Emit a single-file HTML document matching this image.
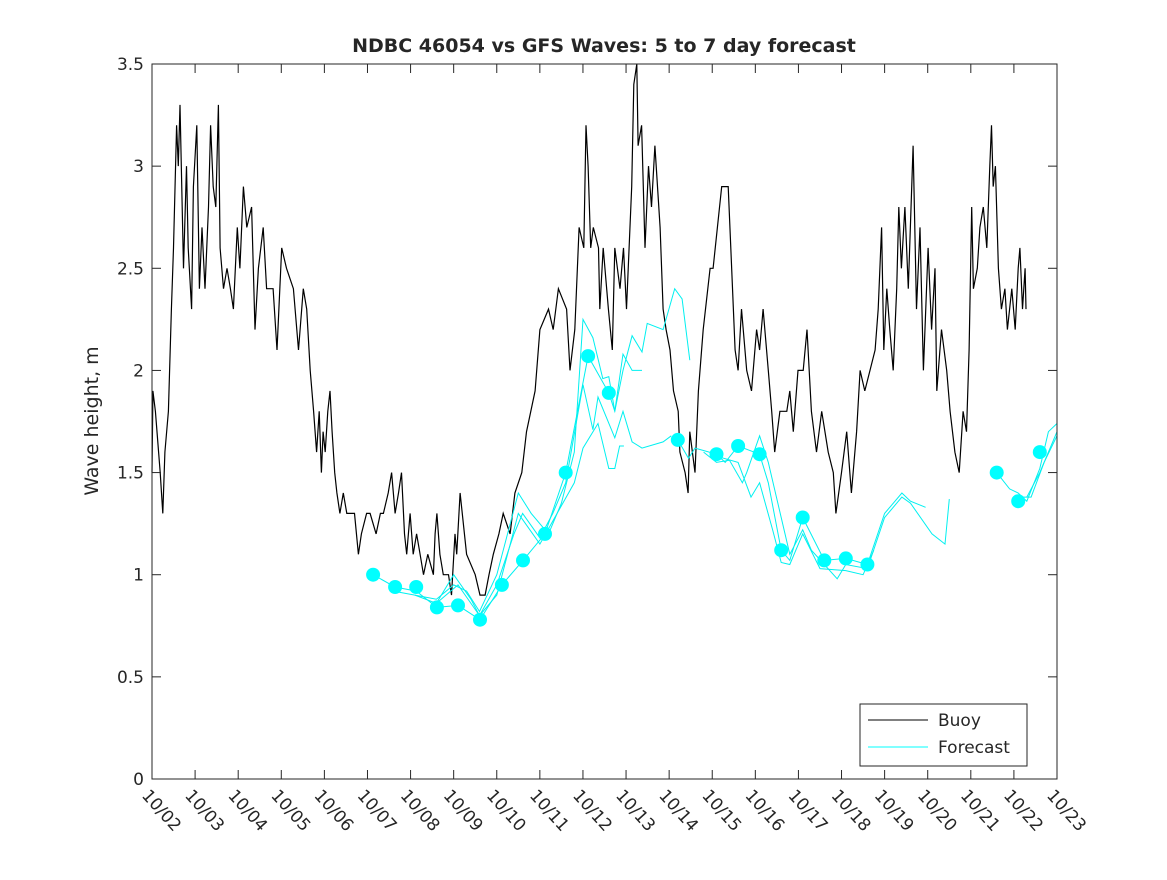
<!DOCTYPE html>
<html><head><meta charset="utf-8"><style>
html,body{margin:0;padding:0;background:#fff;}
svg text{font-family:"DejaVu Sans","Liberation Sans",sans-serif;fill:#262626;}
</style></head><body>
<svg id="chart" width="1167" height="875" viewBox="0 0 1167 875" xmlns="http://www.w3.org/2000/svg">
<rect x="0" y="0" width="1167" height="875" fill="#fff"/>
<text x="604" y="52" text-anchor="middle" font-size="19" font-weight="bold" fill="#000">NDBC 46054 vs GFS Waves: 5 to 7 day forecast</text>
<text transform="translate(98,421) rotate(-90)" text-anchor="middle" font-size="19">Wave height, m</text>
<g id="marks"></g>
<rect x="152" y="64" width="905" height="715" fill="none" stroke="#262626" stroke-width="1"/>
<g id="axes"></g>
<g>
<rect x="860" y="704" width="167" height="62" fill="#fff" stroke="#262626" stroke-width="1"/>
<line x1="868" y1="720" x2="928" y2="720" stroke="#000" stroke-width="1"/>
<text x="938" y="726" font-size="17">Buoy</text>
<line x1="868" y1="747" x2="928" y2="747" stroke="#00ffff" stroke-width="1"/>
<text x="938" y="753" font-size="17">Forecast</text>
</g>
</svg>
<script>
const xTickLabels=["10/02","10/03","10/04","10/05","10/06","10/07","10/08","10/09","10/10","10/11","10/12","10/13","10/14","10/15","10/16","10/17","10/18","10/19","10/20","10/21","10/22","10/23"];
const yTickValues=[0,0.5,1,1.5,2,2.5,3,3.5];
const yTickLabels=["0","0.5","1","1.5","2","2.5","3","3.5"];
const buoyData=[[0,1.5],[0.02,1.9],[0.08,1.8],[0.19,1.5],[0.25,1.3],[0.3,1.6],[0.38,1.8],[0.45,2.3],[0.5,2.6],[0.57,3.2],[0.61,3.0],[0.65,3.3],[0.73,2.5],[0.8,3.0],[0.84,2.6],[0.92,2.3],[0.96,2.9],[1.04,3.2],[1.1,2.4],[1.16,2.7],[1.23,2.4],[1.31,2.8],[1.36,3.2],[1.42,2.9],[1.48,2.8],[1.54,3.3],[1.58,2.6],[1.66,2.4],[1.74,2.5],[1.82,2.4],[1.89,2.3],[1.98,2.7],[2.04,2.5],[2.12,2.9],[2.2,2.7],[2.31,2.8],[2.39,2.2],[2.47,2.5],[2.58,2.7],[2.66,2.4],[2.81,2.4],[2.9,2.1],[3.01,2.6],[3.12,2.5],[3.28,2.4],[3.4,2.1],[3.51,2.4],[3.59,2.3],[3.67,2.0],[3.75,1.8],[3.82,1.6],[3.88,1.8],[3.93,1.5],[3.97,1.7],[4.02,1.6],[4.08,1.8],[4.13,1.9],[4.18,1.7],[4.24,1.5],[4.29,1.4],[4.36,1.3],[4.44,1.4],[4.52,1.3],[4.6,1.3],[4.7,1.3],[4.79,1.1],[4.86,1.2],[4.98,1.3],[5.06,1.3],[5.2,1.2],[5.3,1.3],[5.37,1.3],[5.48,1.4],[5.56,1.5],[5.64,1.3],[5.72,1.4],[5.79,1.5],[5.86,1.2],[5.91,1.1],[5.99,1.3],[6.06,1.1],[6.14,1.2],[6.22,1.1],[6.3,1.0],[6.4,1.1],[6.53,1.0],[6.57,1.2],[6.61,1.3],[6.68,1.1],[6.76,1.0],[6.88,1.0],[6.95,0.9],[7.03,1.2],[7.07,1.1],[7.15,1.4],[7.3,1.1],[7.5,1.0],[7.61,0.9],[7.73,0.9],[7.82,1.0],[7.92,1.1],[8.05,1.2],[8.15,1.3],[8.31,1.2],[8.42,1.4],[8.58,1.5],[8.69,1.7],[8.89,1.9],[9.0,2.2],[9.2,2.3],[9.31,2.2],[9.43,2.4],[9.62,2.3],[9.7,2.0],[9.81,2.2],[9.91,2.7],[10.02,2.6],[10.07,3.2],[10.12,3.0],[10.18,2.6],[10.24,2.7],[10.36,2.6],[10.39,2.3],[10.47,2.6],[10.59,2.3],[10.68,2.1],[10.74,2.6],[10.86,2.4],[10.94,2.6],[11.01,2.3],[11.13,2.9],[11.18,3.4],[11.25,3.5],[11.28,3.1],[11.36,3.2],[11.44,2.6],[11.52,3.0],[11.59,2.8],[11.67,3.1],[11.79,2.7],[11.86,2.3],[11.93,2.2],[12.02,2.1],[12.1,1.9],[12.21,1.8],[12.25,1.6],[12.37,1.5],[12.44,1.4],[12.48,1.7],[12.6,1.5],[12.68,1.9],[12.79,2.2],[12.95,2.5],[13.02,2.5],[13.12,2.7],[13.22,2.9],[13.37,2.9],[13.43,2.6],[13.53,2.1],[13.6,2.0],[13.68,2.3],[13.8,2.0],[13.91,1.9],[14.03,2.2],[14.1,2.1],[14.18,2.3],[14.3,2.0],[14.38,1.8],[14.45,1.6],[14.57,1.8],[14.73,1.8],[14.8,1.9],[14.88,1.7],[14.99,2.0],[15.11,2.0],[15.2,2.2],[15.3,1.8],[15.42,1.6],[15.54,1.8],[15.69,1.6],[15.81,1.5],[15.87,1.3],[16.0,1.5],[16.12,1.7],[16.23,1.4],[16.35,1.7],[16.43,2.0],[16.54,1.9],[16.66,2.0],[16.78,2.1],[16.85,2.3],[16.93,2.7],[16.98,2.1],[17.05,2.4],[17.12,2.2],[17.2,2.0],[17.28,2.4],[17.33,2.8],[17.39,2.5],[17.47,2.8],[17.55,2.4],[17.66,3.1],[17.74,2.3],[17.82,2.7],[17.9,2.0],[18.01,2.6],[18.09,2.2],[18.17,2.5],[18.21,1.9],[18.32,2.2],[18.44,2.0],[18.52,1.8],[18.63,1.6],[18.73,1.5],[18.82,1.8],[18.9,1.7],[18.96,2.1],[19.02,2.8],[19.06,2.4],[19.15,2.5],[19.21,2.7],[19.29,2.8],[19.37,2.6],[19.44,3.0],[19.48,3.2],[19.52,2.9],[19.57,3.0],[19.64,2.5],[19.71,2.3],[19.79,2.4],[19.85,2.2],[19.95,2.4],[20.03,2.2],[20.1,2.5],[20.14,2.6],[20.2,2.3],[20.26,2.5],[20.28,2.3]];
const dotDays=[5.13,5.64,6.13,6.61,7.1,7.61,8.12,8.61,9.12,9.6,10.12,10.6,12.2,13.1,13.6,14.1,14.6,15.1,15.6,16.1,16.6,19.6,20.1,20.6];
const dotHeights=[1.0,0.94,0.94,0.84,0.85,0.78,0.95,1.07,1.2,1.5,2.07,1.89,1.66,1.59,1.63,1.59,1.12,1.28,1.07,1.08,1.05,1.5,1.36,1.6];
const fcRun1=[[5.13,1.0],[5.64,0.94],[6.13,0.92],[6.61,0.84],[7.1,0.85],[7.61,0.78],[8.12,0.95],[8.61,1.07],[9.12,1.2],[9.6,1.5],[10.12,2.07],[10.6,1.89],[10.74,1.8],[10.93,2.0],[11.14,2.17],[11.37,2.09],[11.49,2.23],[11.86,2.2],[12.13,2.4],[12.3,2.35],[12.48,2.05]];
const fcRun2=[[5.6,0.92],[6.1,0.9],[6.6,0.88],[7.0,0.95],[7.3,0.92],[7.6,0.82],[8.0,1.0],[8.5,1.4],[8.8,1.3],[9.2,1.2],[9.5,1.35],[9.8,1.6],[10.0,2.25],[10.23,2.16],[10.46,1.96],[10.6,1.97],[10.74,1.8],[10.93,2.08],[11.14,2.0],[11.37,2.0]];
const fcRun3=[[6.1,0.9],[6.6,0.86],[7.1,0.95],[7.6,0.8],[8.0,0.95],[8.4,1.2],[8.6,1.3],[9.0,1.18],[9.3,1.3],[9.6,1.45],[10.0,1.93],[10.23,1.71],[10.35,1.87],[10.74,1.67],[10.93,1.8],[11.14,1.65],[11.37,1.62],[11.86,1.65],[12.05,1.68]];
const fcRun4=[[6.6,0.86],[7.0,1.0],[7.4,0.88],[7.6,0.8],[8.0,0.9],[8.5,1.3],[9.0,1.15],[9.4,1.3],[9.8,1.45],[10.0,1.62],[10.35,1.74],[10.6,1.52],[10.74,1.52],[10.85,1.63],[10.95,1.63]];
const fcRun5=[[12.2,1.66],[12.45,1.57],[12.6,1.62],[13.1,1.59],[13.3,1.55],[13.6,1.63],[14.1,1.59],[14.3,1.45],[14.6,1.12],[14.8,1.07],[15.1,1.28],[15.6,1.07],[16.1,1.08],[16.6,1.05],[17.0,1.3],[17.4,1.4],[17.6,1.36],[17.95,1.33]];
const fcRun6=[[12.8,1.6],[13.1,1.55],[13.4,1.56],[13.7,1.45],[13.8,1.5],[14.1,1.68],[14.3,1.55],[14.8,1.1],[15.1,1.22],[15.3,1.12],[15.6,1.05],[15.9,0.98],[16.1,1.05],[16.6,1.03],[17.0,1.28],[17.4,1.38],[17.6,1.35],[18.1,1.2],[18.4,1.15],[18.5,1.37]];
const fcRun7=[[13.1,1.58],[13.6,1.55],[13.9,1.38],[14.1,1.45],[14.4,1.22],[14.6,1.06],[14.8,1.05],[15.1,1.2],[15.5,1.03],[16.1,1.02],[16.5,1.0],[16.75,1.12]];
const fcRun8=[[19.6,1.5],[19.9,1.42],[20.1,1.4],[20.3,1.36],[20.6,1.52],[20.8,1.7],[21,1.74]];
const fcRun9=[[20.1,1.38],[20.4,1.38],[20.7,1.55],[21,1.68]];
const fcRun10=[[20.3,1.38],[20.6,1.5],[21,1.7]];

const NS="http://www.w3.org/2000/svg";
const X0=152,X1=1057,Y0=779,Y1=64,DMAX=21,VMAX=3.5;
function xs(d){return X0+(X1-X0)*d/DMAX;}
function ys(v){return Y0-(Y0-Y1)*v/VMAX;}
const marks=document.getElementById('marks');
const axes=document.getElementById('axes');
function mk(tag,attrs,parent){const e=document.createElementNS(NS,tag);for(const k in attrs)e.setAttribute(k,attrs[k]);parent.appendChild(e);return e;}

const bp=buoyData.map(q=>xs(q[0]).toFixed(1)+','+ys(q[1]).toFixed(1)).join(' ');
const bl=mk('polyline',{points:bp,fill:'none',stroke:'#000','stroke-width':1.2},marks);



const runs=[fcRun1,fcRun2,fcRun3,fcRun4,fcRun5,fcRun6,fcRun7,fcRun8,fcRun9,fcRun10];
runs.forEach((r,k)=>{
  const p=mk('polyline',{points:r.map(q=>xs(q[0]).toFixed(1)+','+ys(q[1]).toFixed(1)).join(' '),fill:'none',stroke:'#00f0f0','stroke-width':1},marks);
  
  
});
dotDays.forEach((d,i)=>{
  const c=mk('circle',{cx:xs(d).toFixed(1),cy:ys(dotHeights[i]).toFixed(1),r:7,fill:'#00ffff'},marks);
  
  
});

xTickLabels.forEach((lab,i)=>{
  const x=xs(i);
  const t1=mk('line',{x1:x,y1:Y0,x2:x,y2:Y0-9,stroke:'#262626'},axes);
  
  
  const t2=mk('line',{x1:x,y1:Y1,x2:x,y2:Y1+9,stroke:'#262626'},axes);
  
  
  const t=mk('text',{transform:'translate('+(x-11)+',796) rotate(48)','font-size':17},axes);
  t.textContent=lab;
  
  
});
yTickValues.forEach((v,i)=>{
  const y=ys(v);
  const t1=mk('line',{x1:X0,y1:y,x2:X0+9,y2:y,stroke:'#262626'},axes);
  
  
  const t2=mk('line',{x1:X1,y1:y,x2:X1-9,y2:y,stroke:'#262626'},axes);
  
  
  const t=mk('text',{x:X0-8,y:y+6,'text-anchor':'end','font-size':17},axes);
  t.textContent=yTickLabels[i];
  
  
});
</script>
</body></html>
